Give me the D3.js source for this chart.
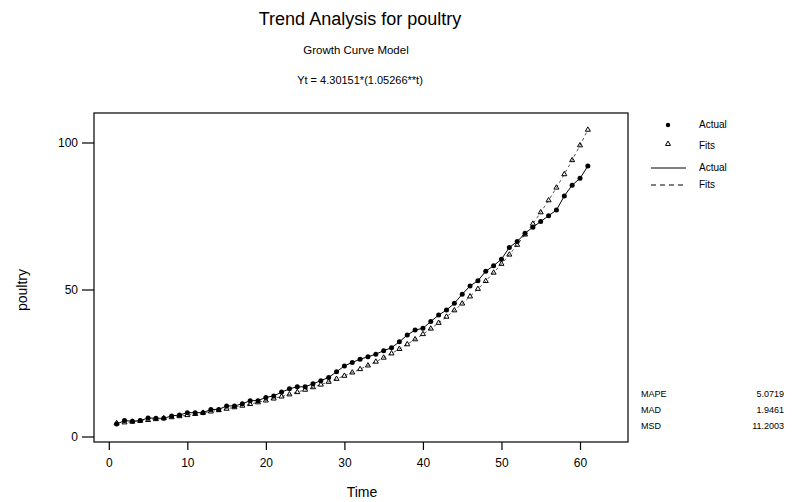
<!DOCTYPE html>
<html>
<head>
<meta charset="utf-8">
<script src="https://cdn.jsdelivr.net/npm/d3@7"></script>
<style>
  body { margin: 0; background: #fff; }
  text { font-family: Arial, "Liberation Sans", sans-serif; fill: #000; }
</style>
</head>
<body>
<svg width="797" height="502"></svg>
<script>
const time = d3.range(1, 62);
const actual = [4.25, 5.4, 5.2, 5.4, 6.3, 6.2, 6.2, 7.0, 7.3, 8.1,
  8.1, 8.1, 9.2, 9.2, 10.4, 10.4, 11.1, 12.2, 12.2, 13.3,
  13.8, 15.1, 16.2, 16.9, 16.9, 17.9, 19.0, 20.1, 22.0, 24.0,
  25.2, 26.3, 27.1, 28.0, 29.2, 30.2, 32.2, 34.5, 36.2, 36.8,
  39.1, 41.3, 43.0, 45.3, 48.4, 51.2, 53.0, 56.2, 58.1, 60.3,
  64.3, 66.3, 69.1, 71.2, 73.1, 75.1, 77.0, 81.8, 85.5, 87.8, 92.0];
const fits = [4.53, 4.78, 5.03, 5.30, 5.59, 5.89, 6.20, 6.54, 6.89, 7.26,
  7.64, 8.05, 8.49, 8.94, 9.42, 9.93, 10.46, 11.02, 11.61, 12.24,
  12.89, 13.59, 14.31, 15.08, 15.89, 16.74, 17.64, 18.59, 19.59, 20.64,
  21.75, 22.91, 24.14, 25.44, 26.80, 28.24, 29.76, 31.35, 33.04, 34.81,
  36.68, 38.64, 40.72, 42.90, 45.21, 47.63, 50.19, 52.88, 55.72, 58.71,
  61.86, 65.18, 68.68, 72.36, 76.24, 80.33, 84.65, 89.19, 93.97, 99.02, 104.33];
const xTicks = [0, 10, 20, 30, 40, 50, 60];
const yTicks = [0, 50, 100];
const stats = [["MAPE", "5.0719"], ["MAD", "1.9461"], ["MSD", "11.2003"]];

const svg = d3.select("svg");
const box = {left: 94, top: 113, right: 628, bottom: 442};

const x = d3.scaleLinear().domain([0, 60]).range([108.8, 580]);
const y = d3.scaleLinear().domain([0, 100]).range([436.5, 142.5]);

const data = time.map((t, i) => ({t, a: actual[i], f: fits[i]}));

// titles
svg.append("text").attr("x", 360).attr("y", 25).attr("text-anchor", "middle")
  .style("font-size", "18px").text("Trend Analysis for poultry");
svg.append("text").attr("x", 356).attr("y", 54).attr("text-anchor", "middle")
  .style("font-size", "11.5px").text("Growth Curve Model");
svg.append("text").attr("x", 360).attr("y", 84).attr("text-anchor", "middle")
  .style("font-size", "11px").text("Yt = 4.30151*(1.05266**t)");

// frame
svg.append("rect")
  .attr("x", box.left).attr("y", box.top)
  .attr("width", box.right - box.left).attr("height", box.bottom - box.top)
  .attr("fill", "none").attr("stroke", "#000").attr("stroke-width", 1.2);

// axes
const xAxis = svg.append("g")
  .attr("transform", `translate(0, ${box.bottom})`)
  .call(d3.axisBottom(x).tickValues(xTicks).tickSize(8).tickPadding(8));
xAxis.select(".domain").remove();
const yAxis = svg.append("g")
  .attr("transform", `translate(${box.left}, 0)`)
  .call(d3.axisLeft(y).tickValues(yTicks).tickSize(12).tickPadding(4));
yAxis.select(".domain").remove();
svg.selectAll(".tick text").style("font-size", "12px")
  .style("font-family", "Arial, 'Liberation Sans', sans-serif");
svg.selectAll(".tick line").attr("stroke-width", 1.2);

svg.append("text").attr("x", 362).attr("y", 497).attr("text-anchor", "middle")
  .style("font-size", "14px").text("Time");
svg.append("text").attr("transform", "translate(27, 290) rotate(-90)")
  .attr("text-anchor", "middle").style("font-size", "14px").text("poultry");

// lines
const lineA = d3.line().x(d => x(d.t)).y(d => y(d.a));
const lineF = d3.line().x(d => x(d.t)).y(d => y(d.f));
svg.append("path").datum(data).attr("d", lineA)
  .attr("fill", "none").attr("stroke", "#000").attr("stroke-width", 1);
svg.append("path").datum(data).attr("d", lineF)
  .attr("fill", "none").attr("stroke", "#555").attr("stroke-width", 1)
  .attr("stroke-dasharray", "3,3");

// points
const tri = d3.symbol().type(d3.symbolTriangle).size(11);
svg.append("g").selectAll("path").data(data).enter().append("path")
  .attr("d", tri)
  .attr("transform", d => `translate(${x(d.t)}, ${y(d.f)})`)
  .attr("fill", "none").attr("stroke", "#000").attr("stroke-width", 1);
svg.append("g").selectAll("circle").data(data).enter().append("circle")
  .attr("cx", d => x(d.t)).attr("cy", d => y(d.a)).attr("r", 2.5)
  .attr("fill", "#000");

// legend
const lg = svg.append("g").style("font-size", "10px");
lg.append("circle").attr("cx", 668).attr("cy", 125).attr("r", 2.2).attr("fill", "#000");
lg.append("path").attr("d", tri).attr("transform", "translate(668, 144)")
  .attr("fill", "none").attr("stroke", "#000");
lg.append("line").attr("x1", 651).attr("x2", 686).attr("y1", 168).attr("y2", 168)
  .attr("stroke", "#000");
lg.append("line").attr("x1", 651).attr("x2", 686).attr("y1", 185).attr("y2", 185)
  .attr("stroke", "#000").attr("stroke-dasharray", "5,4");
[["Actual", 128], ["Fits", 149], ["Actual", 171], ["Fits", 188]].forEach(([t, yy]) => {
  lg.append("text").attr("x", 699).attr("y", yy).text(t);
});

// accuracy measures
const st = svg.append("g").style("font-size", "9px");
stats.forEach(([k, v], i) => {
  st.append("text").attr("x", 641).attr("y", 397 + i * 16).text(k);
  st.append("text").attr("x", 784).attr("y", 397 + i * 16)
    .attr("text-anchor", "end").text(v);
});
</script>
</body>
</html>
